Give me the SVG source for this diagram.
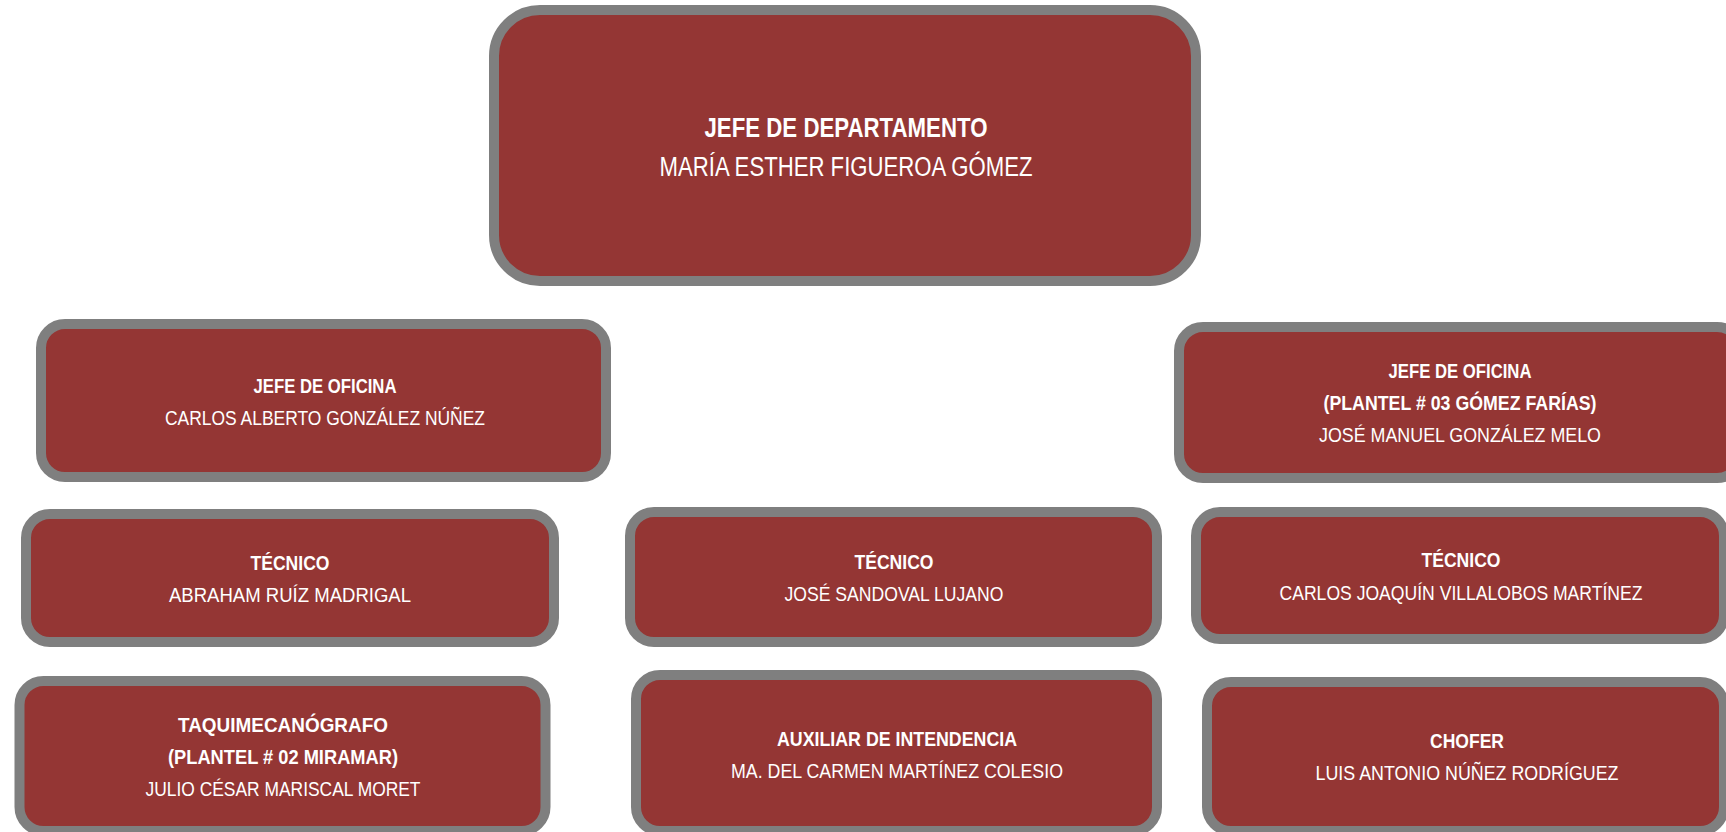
<svg xmlns="http://www.w3.org/2000/svg" width="1726" height="832" viewBox="0 0 1726 832">
<style>
.box{fill:#943634;stroke:#7f7f7f;stroke-width:10}
text{font-family:"Liberation Sans",Arial,sans-serif;fill:#ffffff;text-anchor:middle}
.t{font-weight:bold;font-size:20px}
.n{font-size:21px}
.tb{font-weight:bold;font-size:28px}
.nb{font-size:27px}
</style>
<rect width="1726" height="832" fill="#ffffff"/>
<g id="connectors"></g>
<g id="jefe-departamento">
<rect class="box" x="494" y="10" width="702" height="271" rx="46"/>
<text class="tb" x="846" y="137" textLength="283" lengthAdjust="spacingAndGlyphs">JEFE DE DEPARTAMENTO</text>
<text class="nb" x="846" y="176" textLength="373" lengthAdjust="spacingAndGlyphs">MARÍA ESTHER FIGUEROA GÓMEZ</text>
</g>
<g id="jefe-oficina-1">
<rect class="box" x="41" y="324" width="565" height="153" rx="24"/>
<text class="t" x="325" y="393" textLength="143" lengthAdjust="spacingAndGlyphs">JEFE DE OFICINA</text>
<text class="n" x="325" y="425" textLength="320" lengthAdjust="spacingAndGlyphs">CARLOS ALBERTO GONZÁLEZ NÚÑEZ</text>
</g>
<g id="jefe-oficina-2">
<rect class="box" x="1179" y="327" width="562" height="151" rx="24"/>
<text class="t" x="1460" y="378" textLength="143" lengthAdjust="spacingAndGlyphs">JEFE DE OFICINA</text>
<text class="t" x="1460" y="410" textLength="273" lengthAdjust="spacingAndGlyphs">(PLANTEL # 03 GÓMEZ FARÍAS)</text>
<text class="n" x="1460" y="442" textLength="282" lengthAdjust="spacingAndGlyphs">JOSÉ MANUEL GONZÁLEZ MELO</text>
</g>
<g id="tecnico-1">
<rect class="box" x="26" y="514" width="528" height="128" rx="24"/>
<text class="t" x="290" y="570" textLength="79" lengthAdjust="spacingAndGlyphs">TÉCNICO</text>
<text class="n" x="290" y="602" textLength="242" lengthAdjust="spacingAndGlyphs">ABRAHAM RUÍZ MADRIGAL</text>
</g>
<g id="tecnico-2">
<rect class="box" x="630" y="512" width="527" height="130" rx="24"/>
<text class="t" x="894" y="569" textLength="79" lengthAdjust="spacingAndGlyphs">TÉCNICO</text>
<text class="n" x="894" y="601" textLength="219" lengthAdjust="spacingAndGlyphs">JOSÉ SANDOVAL LUJANO</text>
</g>
<g id="tecnico-3">
<rect class="box" x="1196" y="512" width="528" height="127" rx="24"/>
<text class="t" x="1461" y="567" textLength="79" lengthAdjust="spacingAndGlyphs">TÉCNICO</text>
<text class="n" x="1461" y="600" textLength="363" lengthAdjust="spacingAndGlyphs">CARLOS JOAQUÍN VILLALOBOS MARTÍNEZ</text>
</g>
<g id="taquimecanografo">
<rect class="box" x="19.5" y="681" width="526" height="150" rx="24"/>
<text class="t" x="283" y="732" textLength="210" lengthAdjust="spacingAndGlyphs">TAQUIMECANÓGRAFO</text>
<text class="t" x="283" y="764" textLength="230" lengthAdjust="spacingAndGlyphs">(PLANTEL # 02 MIRAMAR)</text>
<text class="n" x="283" y="796" textLength="275" lengthAdjust="spacingAndGlyphs">JULIO CÉSAR MARISCAL MORET</text>
</g>
<g id="auxiliar-intendencia">
<rect class="box" x="636" y="675" width="521" height="156" rx="24"/>
<text class="t" x="897" y="746" textLength="240" lengthAdjust="spacingAndGlyphs">AUXILIAR DE INTENDENCIA</text>
<text class="n" x="897" y="778" textLength="332" lengthAdjust="spacingAndGlyphs">MA. DEL CARMEN MARTÍNEZ COLESIO</text>
</g>
<g id="chofer">
<rect class="box" x="1207" y="682" width="517" height="149" rx="24"/>
<text class="t" x="1467" y="748" textLength="74" lengthAdjust="spacingAndGlyphs">CHOFER</text>
<text class="n" x="1467" y="780" textLength="303" lengthAdjust="spacingAndGlyphs">LUIS ANTONIO NÚÑEZ RODRÍGUEZ</text>
</g>
</svg>
